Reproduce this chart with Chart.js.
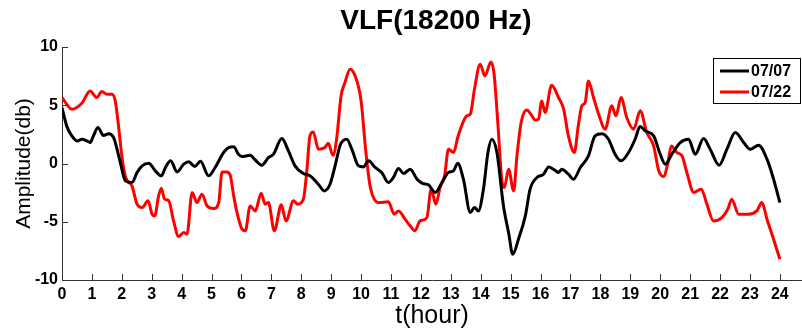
<!DOCTYPE html>
<html>
<head>
<meta charset="utf-8">
<title>VLF(18200 Hz)</title>
<script src="https://cdn.jsdelivr.net/npm/chart.js@4.4.0/dist/chart.umd.min.js"></script>
<style>
  body { margin: 0; background: #fff; }
  #wrap { width: 802px; height: 330px; }
</style>
</head>
<body>
<div id="wrap"><canvas id="vlfChart"></canvas></div>
<script>
const titleText = 'VLF(18200 Hz)';
const seriesNames = ['07/07', '07/22'];
const xTicks = [0, 1, 2, 3, 4, 5, 6, 7, 8, 9, 10, 11, 12, 13, 14, 15, 16, 17, 18, 19, 20, 21, 22, 23, 24];
const yTicks = [-10, -5, 0, 5, 10];

// 07/07 (black)
const hours0707 = [0, 0.16, 0.33, 0.5, 0.67, 0.83, 0.94, 1.05, 1.2, 1.39, 1.56, 1.73, 1.84, 1.95, 2.12, 2.34, 2.51, 2.68, 2.9, 3.12,
  3.32, 3.46, 3.63, 3.85, 4.07, 4.24, 4.44, 4.63, 4.9, 5.12, 5.4, 5.57, 5.74, 5.9, 6.01, 6.29, 6.46, 6.68, 6.9, 7.07,
  7.35, 7.57, 7.79, 8.07, 8.29, 8.57, 8.77, 8.96, 9.13, 9.3, 9.52, 9.69, 9.91, 10.08, 10.25, 10.47, 10.69, 10.91, 11.08, 11.25,
  11.42, 11.64, 11.87, 12.05, 12.25, 12.48, 12.7, 12.92, 13.09, 13.23, 13.42, 13.65, 13.79, 13.92, 14.09, 14.24, 14.37, 14.54, 14.76, 14.93,
  15.07, 15.26, 15.49, 15.65, 15.88, 16.1, 16.27, 16.43, 16.6, 16.71, 16.93, 17.1, 17.33, 17.6, 17.82, 18.05, 18.27, 18.49, 18.69, 18.94,
  19.16, 19.33, 19.5, 19.78, 20.0, 20.17, 20.39, 20.67, 20.95, 21.17, 21.45, 21.67, 21.97, 22.23, 22.51, 22.79, 23.01, 23.29, 23.57, 23.79, 24.0];
const amp0707 = [4.8, 3.2, 2.37, 1.94, 2.08, 1.94, 1.8, 2.37, 3.09, 2.4, 2.55, 2.2, 1.23, 0.08, -1.49, -1.63, -0.77, -0.2, 0.03, -0.63,
  -1.06, -0.34, 0.23, -0.72, -0.06, 0.14, -0.26, 0.2, -1.06, -0.34, 0.94, 1.37, 1.43, 0.8, 0.6, 0.7, 0.3, -0.15, 0.5, 0.8,
  2.14, 1.08, -0.2, -0.86, -1.06, -1.78, -2.35, -1.78, -0.2, 1.57, 2.08, 1.23, -0.2, -0.29, 0.23, -0.34, -0.77, -1.63, -1.2, -0.43,
  -0.86, -0.49, -1.35, -1.7, -1.83, -2.49, -1.63, -0.77, -0.63, 0.03, -1.35, -4.2, -3.78, -4.07, -2.2, 0.94, 2.08, 0.94, -3.64, -5.93,
  -7.79, -6.5, -4.5, -2.2, -1.2, -0.92, -0.29, -0.49, -0.77, -0.49, -0.92, -1.35, -0.34, 0.65, 2.37, 2.55, 2.08, 0.8, 0.23, 0.94,
  2.08, 3.18, 2.8, 2.37, 0.8, -0.06, 0.8, 1.8, 2.08, 0.8, 2.14, 1.23, -0.15, 1.23, 2.66, 1.8, 1.23, 1.57, 0.37, -1.35, -3.35];

// 07/22 (red)
const hours0722 = [0, 0.33, 0.67, 0.94, 1.16, 1.33, 1.5, 1.67, 1.78, 1.89, 2.0, 2.13, 2.34, 2.51, 2.68, 2.88, 3.01, 3.1, 3.23, 3.32,
  3.43, 3.57, 3.73, 3.9, 4.07, 4.18, 4.35, 4.51, 4.68, 4.85, 5.07, 5.24, 5.35, 5.52, 5.63, 5.74, 5.85, 6.02, 6.13, 6.29,
  6.46, 6.66, 6.79, 6.9, 7.1, 7.33, 7.49, 7.74, 7.88, 8.07, 8.18, 8.29, 8.4, 8.57, 8.79, 8.9, 9.06, 9.18, 9.33, 9.46,
  9.63, 9.8, 10.0, 10.15, 10.3, 10.58, 10.91, 11.11, 11.25, 11.47, 11.64, 11.8, 11.97, 12.2, 12.34, 12.5, 12.64, 12.79, 12.92, 13.09,
  13.23, 13.36, 13.53, 13.65, 13.79, 13.98, 14.14, 14.34, 14.44, 14.57, 14.7, 14.79, 14.93, 15.1, 15.21, 15.35, 15.54, 15.71, 15.82, 15.93,
  16.04, 16.15, 16.37, 16.6, 16.77, 16.93, 17.13, 17.26, 17.38, 17.49, 17.6, 17.77, 17.94, 18.16, 18.38, 18.52, 18.69, 18.88, 19.11, 19.33,
  19.55, 19.78, 19.95, 20.11, 20.26, 20.37, 20.56, 20.73, 20.89, 21.12, 21.37, 21.56, 21.78, 22.06, 22.26, 22.39, 22.62, 22.95, 23.23, 23.4,
  23.57, 23.79, 24.0];
const amp0722 = [5.66, 4.66, 5.2, 6.23, 5.66, 6.18, 5.95, 5.95, 5.38, 3.23, 0.65, -1.2, -1.92, -3.49, -3.78, -3.2, -4.35, -4.5, -2.78, -2.12,
  -3.06, -3.2, -4.93, -6.27, -5.93, -6.07, -2.49, -3.35, -2.63, -3.64, -3.87, -3.35, -0.72, -0.72, -1.06, -2.78, -4.2, -5.64, -5.78, -3.64,
  -4.07, -2.55, -3.49, -3.35, -5.78, -3.55, -4.93, -3.2, -3.49, -3.06, -0.77, 2.37, 2.71, 1.23, 1.37, 1.74, 0.7, 2.08, 5.8, 6.95,
  8.09, 7.52, 5.37, 1.23, -1.92, -3.35, -3.29, -4.35, -4.07, -4.78, -5.35, -5.78, -4.93, -4.64, -2.2, -3.49, -2.06, -1.06, 1.23, 0.94,
  2.23, 3.23, 4.09, 4.24, 6.38, 8.52, 7.52, 8.72, 7.81, 3.52, -1.35, -2.06, -0.49, -2.35, 0.65, 3.52, 4.6, 4.09, 3.72, 3.8,
  5.37, 4.37, 6.72, 5.66, 4.66, 2.37, 0.94, 3.23, 4.95, 5.23, 7.09, 5.66, 4.24, 2.95, 4.95, 4.09, 5.66, 3.95, 2.95, 4.52,
  2.66, 1.51, -0.63, -1.12, 0.08, 1.51, 0.94, 0.65, -0.77, -2.49, -2.2, -3.49, -4.93, -4.64, -3.92, -3.06, -4.35, -4.35, -4.07, -3.35,
  -4.78, -6.5, -8.22];

const toPoints = (xs, ys) => xs.map((h, i) => ({ x: h, y: ys[i] }));
const lineColors = ['#000000', '#ff0000'];

Chart.defaults.font.family = '"Liberation Sans", Arial, Helvetica, sans-serif';
Chart.defaults.color = '#000';

// title, inward tick marks and the boxed legend
const decorations = {
  id: 'decorations',
  afterDraw(chart) {
    const ctx = chart.ctx;
    const { left, bottom } = chart.chartArea;
    const xs = chart.scales.x, ys = chart.scales.y;
    ctx.save();
    ctx.strokeStyle = '#333';
    ctx.lineWidth = 1;
    ctx.beginPath();
    xTicks.forEach(v => {
      const px = Math.round(xs.getPixelForValue(v)) + 0.5;
      ctx.moveTo(px, bottom);
      ctx.lineTo(px, bottom - 6);
    });
    yTicks.forEach(v => {
      const py = Math.round(ys.getPixelForValue(v)) + 0.5;
      ctx.moveTo(left, py);
      ctx.lineTo(left + 6, py);
    });
    ctx.stroke();

    ctx.fillStyle = '#000';
    ctx.font = 'bold 28px "Liberation Sans", Arial, sans-serif';
    ctx.textAlign = 'center';
    ctx.textBaseline = 'middle';
    ctx.fillText(titleText, 436, 21);

    // legend box
    const bx = 713.5, by = 58.5, bw = 87, bh = 45;
    ctx.fillStyle = '#fff';
    ctx.fillRect(bx, by, bw, bh);
    ctx.strokeStyle = '#000';
    ctx.lineWidth = 1;
    ctx.strokeRect(bx, by, bw, bh);
    ctx.font = 'bold 16px "Liberation Sans", Arial, sans-serif';
    ctx.textAlign = 'left';
    seriesNames.forEach((name, i) => {
      const ly = 71 + i * 21;
      ctx.strokeStyle = lineColors[i];
      ctx.lineWidth = 3;
      ctx.beginPath();
      ctx.moveTo(720, ly);
      ctx.lineTo(749, ly);
      ctx.stroke();
      ctx.fillStyle = '#000';
      ctx.fillText(name, 751, ly + 1);
    });
    ctx.restore();
  }
};

const ctx = document.getElementById('vlfChart').getContext('2d');
new Chart(ctx, {
  type: 'line',
  data: {
    datasets: [
      { label: seriesNames[0], data: toPoints(hours0707, amp0707), borderColor: lineColors[0], borderWidth: 3, pointRadius: 0, cubicInterpolationMode: 'monotone', fill: false },
      { label: seriesNames[1], data: toPoints(hours0722, amp0722), borderColor: lineColors[1], borderWidth: 3, pointRadius: 0, cubicInterpolationMode: 'monotone', fill: false }
    ]
  },
  options: {
    responsive: true,
    maintainAspectRatio: false,
    animation: false,
    layout: { padding: { top: 47, left: 0, right: 0, bottom: 0 } },
    plugins: {
      legend: { display: false },
      title: { display: false },
      tooltip: { enabled: false }
    },
    scales: {
      x: {
        type: 'linear',
        min: 0,
        max: 24.74,
        afterBuildTicks: s => { s.ticks = xTicks.map(v => ({ value: v })); },
        afterFit: s => { s.height = 50; },
        grid: { display: false, drawTicks: false },
        border: { display: true, color: '#333', width: 1 },
        ticks: { font: { size: 16, weight: 'bold' }, color: '#000', padding: 5, maxRotation: 0, autoSkip: false },
        title: { display: true, text: 't(hour)', font: { size: 25, lineHeight: 1 }, color: '#000', padding: { top: 0, bottom: 1 } }
      },
      y: {
        min: -10,
        max: 10,
        afterBuildTicks: s => { s.ticks = yTicks.map(v => ({ value: v })); },
        afterFit: s => { s.width = 62; },
        grid: { display: false, drawTicks: false },
        border: { display: true, color: '#333', width: 1 },
        ticks: { font: { size: 16, weight: 'bold' }, color: '#000', padding: 4 },
        title: { display: true, text: 'Amplitude(db)', font: { size: 21, lineHeight: 1.2 }, color: '#000', padding: { top: 12, bottom: 0 } }
      }
    }
  },
  plugins: [decorations]
});
</script>
</body>
</html>
